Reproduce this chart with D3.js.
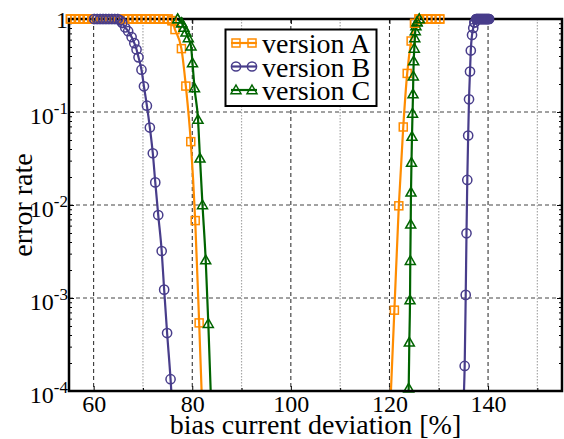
<!DOCTYPE html>
<html>
<head>
<meta charset="utf-8">
<script src="https://cdn.jsdelivr.net/npm/d3@7"></script>
</head>
<body style="margin:0">
<svg id="chart" width="564" height="439"></svg>
<script>
// ---------------- DATA ----------------
const seriesNames = ["version A", "version B", "version C"];
const seriesColors = ["#ff8c00", "#483d8b", "#006400"];

// version A (squares)
const biasLowA = [55.3, 56.2, 57.1, 58.0, 58.9, 59.8, 60.7, 61.6, 62.5, 63.4, 64.3, 65.2, 66.1, 67.0, 67.9, 68.8, 69.7, 70.6, 71.5, 72.4, 73.3, 74.2, 75.1, 75.9, 76.5, 77.8, 78.7, 79.7, 80.6, 81.4];
const errLowA  = [1, 1, 1, 1, 1, 1, 1, 1, 1, 1, 1, 1, 1, 1, 1, 1, 1, 1, 1, 1, 1, 1, 1, 0.96, 0.77, 0.48, 0.19, 0.048, 0.0068, 0.00054];
const biasHighA = [121.0, 121.9, 122.8, 123.6, 124.4, 125.1, 126.0, 126.8, 127.7, 128.5, 129.4, 130.2];
const errHighA  = [0.00074, 0.0098, 0.069, 0.26, 0.58, 0.90, 1, 1, 1, 1, 1, 1];
const fitEndsA = [81.9, 120.3];   // bias where the fitted line meets 1e-4 (low side, high side)

// version B (circles)
const biasLowB = [60.1, 60.7, 61.3, 61.9, 62.5, 63.1, 63.7, 64.3, 64.9, 65.4, 65.8, 66.4, 67.0, 67.7, 68.25, 68.7, 69.1, 69.7, 70.2, 70.8, 71.4, 72.0, 72.5, 73.1, 73.8, 74.3, 74.9, 75.6];
const errLowB  = [1, 1, 1, 1, 1, 1, 1, 1, 1, 0.97, 0.91, 0.81, 0.74, 0.64, 0.55, 0.47, 0.387, 0.285, 0.189, 0.117, 0.068, 0.036, 0.0175, 0.0078, 0.0032, 0.00123, 0.00042, 0.000134];
const biasHighB = [135.26, 135.47, 135.63, 135.79, 135.97, 136.14, 136.34, 136.5, 136.75, 137.0, 137.25, 137.6, 137.8, 138.0, 138.2, 138.4, 138.6, 138.8, 139.0, 139.2, 139.4, 139.6, 139.8, 140.0, 140.2];
const errHighB  = [0.000186, 0.00108, 0.00496, 0.0186, 0.0559, 0.137, 0.272, 0.458, 0.673, 0.80, 0.917, 1, 1, 1, 1, 1, 1, 1, 1, 1, 1, 1, 1, 1, 1];
const fitEndsB = [75.75, 135.12];

// version C (triangles)
const biasLowC = [77.05, 77.86, 78.33, 78.73, 79.2, 79.75, 80.05, 80.46, 81.17, 81.57, 82.08, 82.73, 83.26];
const errLowC  = [1, 0.906, 0.81, 0.72, 0.625, 0.51, 0.336, 0.181, 0.083, 0.0318, 0.0100, 0.00256, 0.00053];
const biasHighC = [123.9, 124.03, 124.17, 124.23, 124.31, 124.37, 124.47, 124.57, 124.68, 124.78, 124.84, 124.92, 125.04, 125.14, 125.24, 125.38, 125.59, 126.05];
const errHighC  = [0.000107, 0.000334, 0.00095, 0.00252, 0.0062, 0.0137, 0.0286, 0.0545, 0.0964, 0.156, 0.243, 0.353, 0.482, 0.625, 0.743, 0.84, 0.93, 1];
const fitEndsC = [83.74, 123.87];

const xMajorTicks = [60, 80, 100, 120, 140];
const xMinorTicks = [70, 90, 110, 130, 150];
const yMajorTicks = [1e-4, 1e-3, 1e-2, 1e-1, 1];
const yTickLabels = [["10", "-4"], ["10", "-3"], ["10", "-2"], ["10", "-1"], ["1", ""]];
const xTitle = "bias current deviation [%]";
const yTitle = "error rate";

// ---------------- LAYOUT ----------------
const FONT = '"Liberation Serif", monospace';
const svg = d3.select("#chart");
const L = 69, R = 562, T = 19, B = 391;
const x = d3.scaleLinear().domain([55, 155]).range([L, R]);
const y = d3.scaleLog().domain([1e-4, 1]).range([B, T]);

const yMinorTicks = [];
[1e-4, 1e-3, 1e-2, 1e-1].forEach(d => { for (let k = 2; k <= 9; k++) yMinorTicks.push(d * k); });

const zip = (xs, ys) => xs.map((v, i) => [v, ys[i]]);
const series = [
  { low: zip(biasLowA, errLowA), high: zip(biasHighA, errHighA), ends: fitEndsA, shape: "square" },
  { low: zip(biasLowB, errLowB), high: zip(biasHighB, errHighB), ends: fitEndsB, shape: "circle" },
  { low: zip(biasLowC, errLowC), high: zip(biasHighC, errHighC), ends: fitEndsC, shape: "triangle" }
];

// ---------------- GRID ----------------
const grid = svg.append("g");
grid.selectAll("line.vmin").data(xMinorTicks).join("line")
  .attr("x1", d => x(d)).attr("x2", d => x(d)).attr("y1", T).attr("y2", B)
  .attr("stroke", "#a8a8a8").attr("stroke-width", 1.2).attr("stroke-dasharray", "1.5,1.5");
grid.selectAll("line.vmaj").data(xMajorTicks).join("line")
  .attr("x1", d => x(d)).attr("x2", d => x(d)).attr("y1", T).attr("y2", B)
  .attr("stroke", "#222").attr("stroke-width", 1).attr("stroke-dasharray", "4,3");
grid.selectAll("line.hmaj").data(yMajorTicks.slice(1, 4)).join("line")
  .attr("x1", L).attr("x2", R).attr("y1", d => y(d)).attr("y2", d => y(d))
  .attr("stroke", "#444").attr("stroke-width", 1).attr("stroke-dasharray", "4,3");

// ---------------- AXES (ticks inward) ----------------
const axB = svg.append("g").attr("transform", `translate(0,${B})`)
  .call(d3.axisBottom(x).tickValues(xMajorTicks).tickSize(-5).tickFormat(""));
axB.selectAll("text").remove();
axB.selectAll(".tick").append("text")
  .attr("y", 412 - B).attr("text-anchor", "middle").attr("fill", "#000")
  .style("font-family", FONT).attr("font-size", 24)
  .text(d => d);

function tickOnly(g) { g.selectAll("text").remove(); }
svg.append("g").attr("transform", `translate(0,${B})`)
  .call(d3.axisBottom(x).tickValues(xMinorTicks).tickSize(-3)).call(tickOnly);
svg.append("g").attr("transform", `translate(0,${T})`)
  .call(d3.axisTop(x).tickValues(xMajorTicks).tickSize(-5)).call(tickOnly);

const axL = svg.append("g").attr("transform", `translate(${L},0)`)
  .call(d3.axisLeft(y).tickValues(yMajorTicks).tickSize(-5)).call(tickOnly);
svg.append("g").attr("transform", `translate(${L},0)`)
  .call(d3.axisLeft(y).tickValues(yMinorTicks).tickSize(-3)).call(tickOnly);
svg.append("g").attr("transform", `translate(${R},0)`)
  .call(d3.axisRight(y).tickValues(yMajorTicks).tickSize(-5)).call(tickOnly);
svg.append("g").attr("transform", `translate(${R},0)`)
  .call(d3.axisRight(y).tickValues(yMinorTicks).tickSize(-3)).call(tickOnly);
svg.selectAll(".domain").remove();
svg.selectAll(".tick line").attr("stroke", "#000").attr("stroke-width", 1);

// y tick labels with superscripts
axL.selectAll(".tick").each(function (d, i) {
  const lab = yTickLabels[i];
  const t = d3.select(this).append("text")
    .attr("x", -1).attr("text-anchor", "end").attr("fill", "#000")
    .style("font-family", FONT).attr("font-size", 24)
    .attr("y", lab[1] ? 11 : 8);
  t.append("tspan").style("font-family", FONT).text(lab[0]);
  if (lab[1]) t.append("tspan").style("font-family", FONT).attr("font-size", 17).attr("dy", -10).text(lab[1]);
});

// ---------------- SERIES ----------------
const clip = svg.append("clipPath").attr("id", "plotclip");
clip.append("rect").attr("x", L).attr("y", T - 3).attr("width", R - L).attr("height", B - T + 3);

const line = d3.line().x(d => x(d[0])).y(d => y(d[1])).curve(d3.curveMonotoneX);

function marker(g, shape, color, cx, cy) {
  if (shape === "square") {
    g.append("rect").attr("x", cx - 4).attr("y", cy - 4).attr("width", 8).attr("height", 8)
      .attr("fill", "none").attr("stroke", color).attr("stroke-width", 1.5);
  } else if (shape === "circle") {
    g.append("circle").attr("cx", cx).attr("cy", cy).attr("r", 4.6)
      .attr("fill", "none").attr("stroke", color).attr("stroke-width", 1.5);
  } else {
    const s = 5;
    g.append("path").attr("d", `M${cx},${cy - s}L${cx + s},${cy + s * 0.75}L${cx - s},${cy + s * 0.75}Z`)
      .attr("fill", "none").attr("stroke", color).attr("stroke-width", 1.5);
  }
}

series.forEach((s, i) => {
  const color = seriesColors[i];
  const g = svg.append("g");
  const lowLine = s.low.concat([[s.ends[0], 1e-4]]);
  const highLine = [[s.ends[1], 1e-4]].concat(s.high);
  [lowLine, highLine].forEach(pts => {
    g.append("path").attr("d", line(pts)).attr("fill", "none")
      .attr("stroke", color).attr("stroke-width", 2.2).attr("clip-path", "url(#plotclip)");
  });
  s.low.concat(s.high).forEach(d => marker(g, s.shape, color, x(d[0]), y(d[1])));
});

// ---------------- FRAME ----------------
svg.append("rect").attr("x", L).attr("y", T).attr("width", R - L).attr("height", B - T)
  .attr("fill", "none").attr("stroke", "#000").attr("stroke-width", 2.5);
// redraw top-edge markers over the frame
series.forEach((s, i) => {
  const g = svg.append("g");
  s.low.concat(s.high).filter(d => d[1] >= 0.9).forEach(d => marker(g, s.shape, seriesColors[i], x(d[0]), y(d[1])));
});

// ---------------- LEGEND ----------------
const leg = svg.append("g");
leg.append("rect").attr("x", 225.5).attr("y", 29.5).attr("width", 151).attr("height", 76.5)
  .attr("fill", "#fff").attr("stroke", "#000").attr("stroke-width", 2);
seriesNames.forEach((name, i) => {
  const cy = 43 + i * 23.5;
  const g = leg.append("g");
  g.append("line").attr("x1", 231).attr("x2", 257).attr("y1", cy).attr("y2", cy)
    .attr("stroke", seriesColors[i]).attr("stroke-width", 2.2);
  marker(g, series[i].shape, seriesColors[i], 236, cy);
  marker(g, series[i].shape, seriesColors[i], 252, cy);
  g.append("text").attr("x", 262).attr("y", cy + 10)
    .style("font-family", FONT).attr("font-size", 28).attr("fill", "#000").text(name);
});

// ---------------- TITLES ----------------
svg.append("text").attr("x", (L + R) / 2).attr("y", 434).attr("text-anchor", "middle")
  .style("font-family", FONT).attr("font-size", 28).attr("fill", "#000").text(xTitle);
svg.append("text").attr("transform", `translate(32,${(T + B) / 2}) rotate(-90)`)
  .attr("text-anchor", "middle").style("font-family", FONT)
  .attr("font-size", 28).attr("fill", "#000").text(yTitle);
</script>
</body>
</html>
